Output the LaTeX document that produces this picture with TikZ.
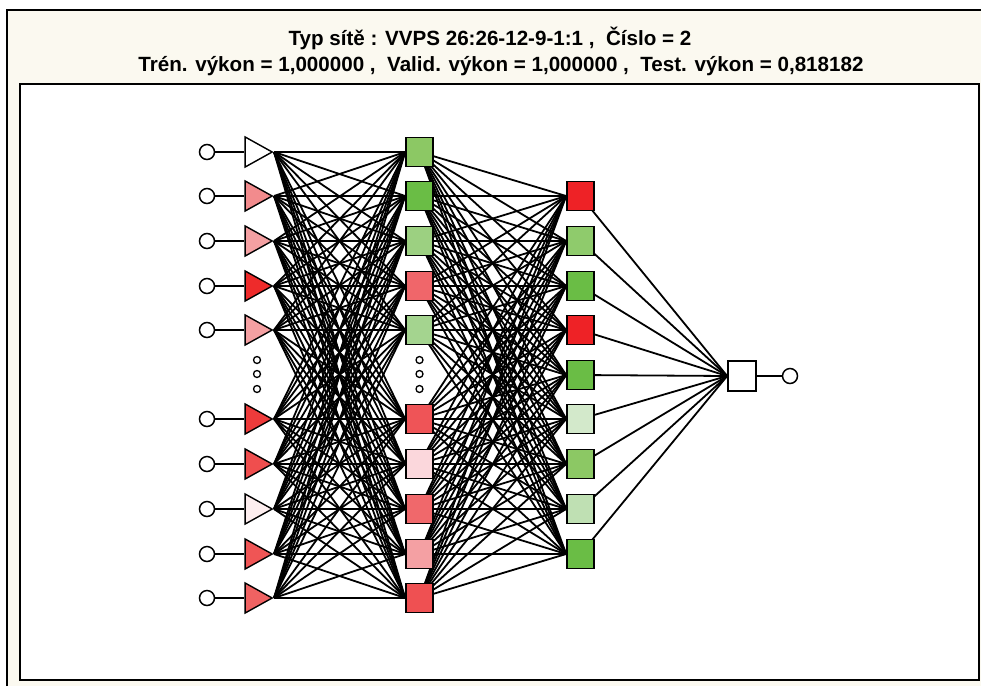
\documentclass[tikz,border=0pt]{standalone}
\usepackage{fontspec}
\setmainfont{Liberation Sans}
\usetikzlibrary{shapes.geometric}
\definecolor{cream}{HTML}{FBF9F0}
\definecolor{i1}{HTML}{FFFFFF}
\definecolor{i2}{HTML}{F28B8D}
\definecolor{i3}{HTML}{F4A0A2}
\definecolor{i4}{HTML}{EE2B2B}
\definecolor{i5}{HTML}{F4A0A2}
\definecolor{i6}{HTML}{EE3B3B}
\definecolor{i7}{HTML}{EF4E4E}
\definecolor{i8}{HTML}{FDEEEF}
\definecolor{i9}{HTML}{EF5555}
\definecolor{i10}{HTML}{F06262}
\definecolor{h1}{HTML}{8CC864}
\definecolor{h2}{HTML}{6ABD45}
\definecolor{h3}{HTML}{9CD081}
\definecolor{h4}{HTML}{F0666A}
\definecolor{h5}{HTML}{A4D48F}
\definecolor{h6}{HTML}{EF5457}
\definecolor{h7}{HTML}{FBD7DC}
\definecolor{h8}{HTML}{F0686B}
\definecolor{h9}{HTML}{F4A0A3}
\definecolor{h10}{HTML}{EF5052}
\definecolor{g1}{HTML}{EE2226}
\definecolor{g2}{HTML}{8FCB6C}
\definecolor{g3}{HTML}{6ABD45}
\definecolor{g4}{HTML}{EE2226}
\definecolor{g5}{HTML}{6ABD45}
\definecolor{g6}{HTML}{D3E9CB}
\definecolor{g7}{HTML}{8CC864}
\definecolor{g8}{HTML}{BFE0B3}
\definecolor{g9}{HTML}{6ABD45}
\tikzset{
  incirc/.style={circle, draw=black, fill=white, line width=1.5pt, minimum size=15pt, inner sep=0pt},
  intri/.style={isosceles triangle, isosceles triangle stretches, draw=black, line width=1.4pt,
     minimum height=27pt, minimum width=30pt, inner sep=0pt},
  sq/.style={rectangle, draw=black, line width=1.7pt, minimum width=27pt, minimum height=29pt, inner sep=0pt},
  dotc/.style={circle, draw=black, fill=white, line width=1.3pt, minimum size=7pt, inner sep=0pt},
  wire/.style={black, line width=1.8pt},
  frame/.style={black, line width=2pt},
  ttl/.style={font=\fontsize{20.6}{24}\selectfont\bfseries}
}
\begin{document}
\begin{tikzpicture}[x=1pt,y=-1pt]
\useasboundingbox (0,0) rectangle (981,686);
% background panel
\fill[cream] (7,10) rectangle (981,686);
\draw[frame] (7,686) -- (7,10) -- (981,10);
\fill[white] (20,84) rectangle (979,680);
\draw[frame] (20,84) rectangle (979,680);
% title
\node[ttl] (t1) at (490,38) {Typ sítě : VVPS 26:26-12-9-1:1 ,~~Číslo = 2};
\node[ttl] (t2) at (501,66) {Trén. výkon = 1,000000 ,~~Valid. výkon = 1,000000 ,~~Test. výkon = 0,818182};
% layer rows
\def\rowsA{1/152,2/196,3/241,4/286,5/330,6/419,7/464,8/509,9/554,10/598}
\def\rowsB{1/196,2/241,3/286,4/330,5/375,6/419,7/464,8/509,9/554}
\pgfdeclarelayer{top}
\pgfsetlayers{main,top}
\foreach \i/\y in \rowsA {
  \begin{pgfonlayer}{top}
  \node[incirc] (c\i) at (207,\y) {};
  \node[intri, fill=i\i] (a\i) at (254,\y) {};
  \node[sq, fill=h\i] (b\i) at (419.5,\y) {};
  \end{pgfonlayer}
}
\foreach \i/\y in \rowsB {
  \begin{pgfonlayer}{top}
  \node[sq, fill=g\i] (d\i) at (580.5,\y) {};
  \end{pgfonlayer}
}
\begin{pgfonlayer}{top}
\node[sq, fill=white, minimum width=28pt, minimum height=30pt] (o) at (742,376) {};
\node[incirc] (oc) at (790,376) {};
\foreach \k/\y in {1/360,2/374,3/389} {
  \node[dotc] (da\k) at (257,\y) {};
  \node[dotc] (db\k) at (419.5,\y) {};
}
\end{pgfonlayer}
% connectors
\foreach \i/\y in \rowsA {
  \draw[wire] (c\i) -- (a\i.west);
  \foreach \j/\yy in \rowsA {
    \draw[wire] (a\i.apex) -- (b\j.west);
  }
  \foreach \j/\yy in \rowsB {
    \draw[wire] (b\i.center) -- (d\j.west);
  }
}
\foreach \j/\yy in \rowsB {
  \draw[wire] (d\j.center) -- (o.west);
}
\draw[wire] (o) -- (oc);
\end{tikzpicture}
\end{document}
